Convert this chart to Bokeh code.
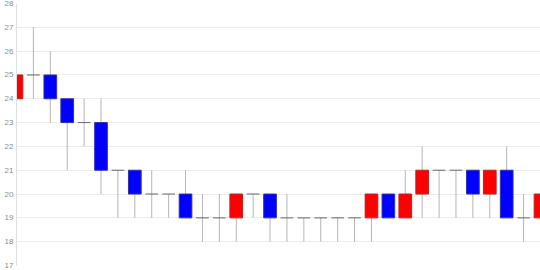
from bokeh.plotting import figure
from bokeh.models import ColumnDataSource, FixedTicker, Range1d
from bokeh.embed import file_html
from bokeh.resources import INLINE

opens  = [24, 25, 25, 24, 23, 23, 21, 21, 20, 20, 20, 19, 19, 19, 20, 20, 19, 19, 19, 19, 19, 19, 20, 19, 20, 21, 21, 21, 20, 21, 19, 19]
closes = [25, 25, 24, 23, 23, 21, 21, 20, 20, 20, 19, 19, 19, 20, 20, 19, 19, 19, 19, 19, 19, 20, 19, 20, 21, 21, 21, 20, 21, 19, 19, 20]
lows   = [24, 24, 23, 21, 22, 20, 19, 19, 19, 19, 19, 18, 18, 18, 19, 18, 18, 18, 18, 18, 18, 18, 19, 19, 19, 19, 19, 19, 19, 19, 18, 19]
highs  = [25, 27, 26, 24, 24, 24, 21, 21, 21, 20, 21, 20, 20, 20, 20, 20, 20, 19, 19, 19, 19, 20, 20, 21, 22, 21, 21, 21, 21, 22, 20, 20]
y_ticks = [17, 18, 19, 20, 21, 22, 23, 24, 25, 26, 27, 28]

n = len(opens)
idx = list(range(n))
body_w = 0.75

up = [i for i in idx if closes[i] > opens[i]]
down = [i for i in idx if closes[i] < opens[i]]
flat = [i for i in idx if closes[i] == opens[i]]

p = figure(width=540, height=270, output_backend="svg", toolbar_location=None,
           x_range=Range1d(0, n - 1), y_range=Range1d(17, 28),
           min_border_left=16, min_border_right=0, min_border_top=3, min_border_bottom=5)
p.outline_line_color = None
p.background_fill_color = "white"
p.border_fill_color = "white"

# wicks
wick_src = ColumnDataSource(dict(x=idx, lo=lows, hi=highs))
p.segment(x0="x", y0="lo", x1="x", y1="hi", source=wick_src, line_color="#b5b5b5", line_width=1)

# bodies
def body(sel, fill, line):
    src = ColumnDataSource(dict(x=sel, top=[max(opens[i], closes[i]) for i in sel],
                                bottom=[min(opens[i], closes[i]) for i in sel]))
    p.vbar(x="x", top="top", bottom="bottom", width=body_w, source=src,
           fill_color=fill, line_color=line, line_width=1)

body(up, "#ff0000", "#c02020")
body(down, "#0000ff", "#3030b0")

# doji
flat_src = ColumnDataSource(dict(x0=[i - body_w / 2 for i in flat], x1=[i + body_w / 2 for i in flat],
                                 y=[opens[i] for i in flat]))
p.segment(x0="x0", y0="y", x1="x1", y1="y", source=flat_src, line_color="#666666", line_width=1)

p.xaxis.visible = False
p.xgrid.visible = False
p.ygrid.grid_line_color = "#ebebeb"
p.ygrid.grid_line_width = 1

ax = p.yaxis[0]
ax.ticker = FixedTicker(ticks=y_ticks)
ax.axis_line_color = "#e0e0e0"
ax.major_tick_line_color = None
ax.minor_tick_line_color = None
ax.major_tick_out = 0
ax.major_tick_in = 0
ax.minor_tick_out = 0
ax.minor_tick_in = 0
ax.major_label_text_font = "Liberation Sans"
ax.major_label_text_font_size = "8px"
ax.major_label_text_color = "#8c8c8c"
ax.major_label_standoff = 3

open("out.html", "w").write(file_html(p, INLINE))
